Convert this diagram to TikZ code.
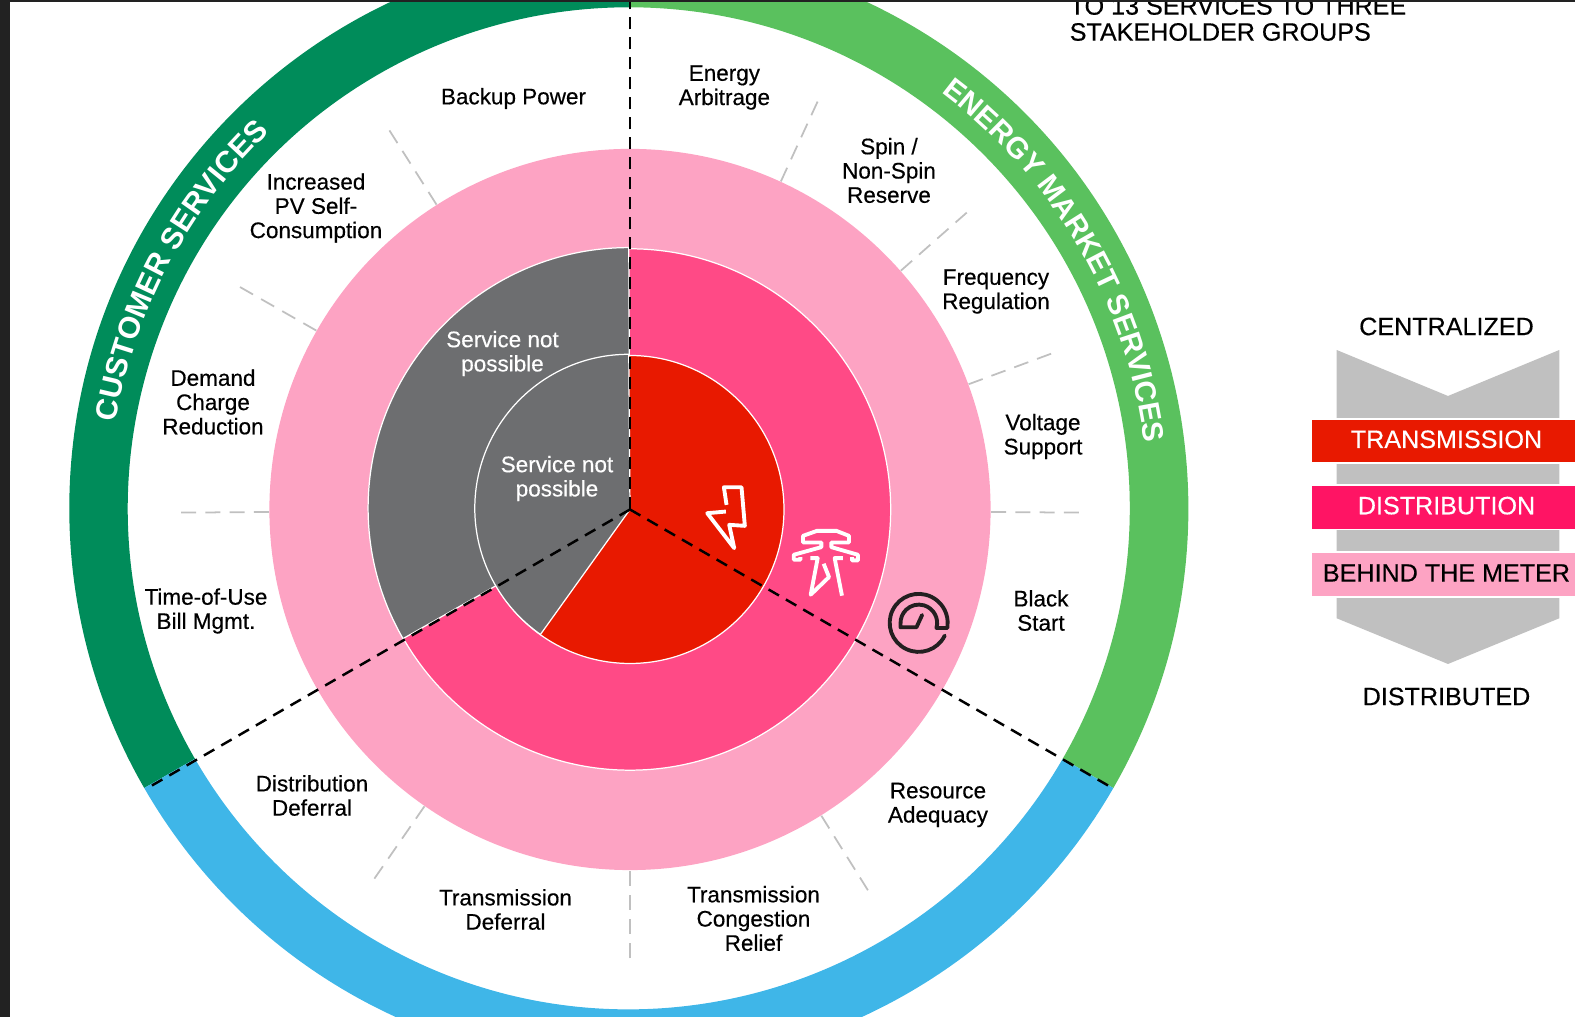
\documentclass[tikz,border=0pt]{standalone}
\usepackage{fontspec}
\setmainfont[FakeBold=.4]{Liberation Sans}
\newfontfamily\ringfont{Liberation Sans Bold}
\usetikzlibrary{decorations.text}
\definecolor{darkgreen}{HTML}{008C5A}
\definecolor{lightgreen}{HTML}{5AC15E}
\definecolor{ringblue}{HTML}{3FB6E8}
\definecolor{meterpink}{HTML}{FDA3C3}
\definecolor{gridpink}{HTML}{FF4A86}
\definecolor{gridred}{HTML}{E81900}
\definecolor{nogrey}{HTML}{6D6E70}
\definecolor{chevgrey}{HTML}{C0C0C0}
\definecolor{distpink}{HTML}{FF1464}
\definecolor{iconblack}{HTML}{231F20}
\definecolor{frame}{HTML}{222222}
\tikzset{
  svc/.style={align=center,inner sep=0pt,font=\fontsize{6.4}{6.9}\selectfont},
  nosvc/.style={svc,text=white},
  head/.style={inner sep=0pt,align=left,font=\fontsize{7.15}{7.4}\selectfont},
  band/.style={inner sep=0pt,minimum width=2.716cm,minimum height=.445cm,text height=.18cm,text depth=.04cm,font=\fontsize{7.15}{7.4}\selectfont},
  split/.style={draw=black,line width=.7pt,dash pattern=on .12cm off .08cm},
  tick/.style={draw=chevgrey,line width=.5pt,dash pattern=on .15cm off .093cm},
  ringtext/.style 2 args={decorate,decoration={text along path,text color=white,
    text={|\fontsize{#1}{#1}\selectfont\ringfont|#2}}},
  wline/.style={draw=white,line width=.35pt},
  icon/.style={line width=1.1pt,line join=round}
}
\begin{document}
\begin{tikzpicture}
\useasboundingbox (-6.3,-5.075) rectangle (9.45,5.095);
\clip (-6.3,-5.075) rectangle (9.45,5.095);
\coordinate (hub) at (0,0);
\coordinate (topend) at (90:5.1);
\coordinate (rightend) at (-30:5.58);
\coordinate (leftend) at (210:5.58);
\begin{scope}[shift={(-.012,.012)}]
\foreach \from/\to/\col in {90/210/darkgreen,-30/90/lightgreen,210/330/ringblue}
\fill[\col] (\from:5.595) arc (\from:\to:5.595) -- (\to:5.01) arc (\to:\from:5.01) -- cycle;
\path[ringtext={8.6}{CUSTOMER SERVICES}] (170.5:5.2) arc (170.5:120:5.2);
\path[ringtext={8.4}{ENERGY MARKET SERVICES}] (53.1:5.2) arc (53.1:-5:5.2);
\end{scope}
\foreach \ang in {65.3,41.4,20.3,-.4,-58,270,235.3,180.4,150.3,122.4}
\draw[tick] (\ang:4.49) -- (\ang:3.55);
\begin{scope}[shift={(-.012,.012)}]
\fill[meterpink] (hub) circle (3.606);
\draw[wline,fill=gridpink] (hub) circle (2.607);
\draw[wline,fill=nogrey] (hub) -- (90:2.607) arc (90:210:2.607) -- cycle;
\draw[wline,fill=gridred] (hub) circle (1.54);
\draw[wline,fill=nogrey] (hub) -- (90:1.54) arc (90:235:1.54) -- cycle;
\end{scope}
\draw[split] (hub) -- (topend);
\draw[split] (hub) -- (rightend);
\draw[split] (hub) -- (leftend);
\node[svc] (backup) at (-1.165,4.11) {Backup Power};
\node[svc] (arbitrage) at (.944,4.22) {Energy\\Arbitrage};
\node[svc] (spin) at (2.59,3.39) {Spin /\\Non-Spin\\Reserve};
\node[svc] (frequency) at (3.66,2.18) {Frequency\\Regulation};
\node[svc] (voltage) at (4.13,.73) {Voltage\\Support};
\node[svc] (blackstart) at (4.11,-1.01) {Black\\Start};
\node[svc] (adequacy) at (3.08,-2.955) {Resource\\Adequacy};
\node[svc] (congestion) at (1.235,-4.09) {Transmission\\Congestion\\Relief};
\node[svc] (txdeferral) at (-1.245,-4) {Transmission\\Deferral};
\node[svc] (dxdeferral) at (-3.18,-2.86) {Distribution\\Deferral};
\node[svc] (timeofuse) at (-4.24,-1.015) {Time-of-Use\\Bill Mgmt.};
\node[svc] (demand) at (-4.17,1.075) {Demand\\Charge\\Reduction};
\node[svc] (selfuse) at (-3.14,3.015) {Increased\\PV Self-\\Consumption};
\node[nosvc] (notdist) at (-1.275,1.56) {Service not\\possible};
\node[nosvc] (nottrans) at (-.73,.31) {Service not\\possible};
\begin{scope}[shift={(.5,.495)},x=.00333cm,y=-.00333cm]
\draw[icon,white] (140,135) -- (132,82) -- (185,82) -- (195,198) -- (148,195) -- (163,265) -- (82,160) -- (138,155);
\draw[icon,white] (362,292) -- (362,300) -- (342,300) -- (342,285) -- (425,262) -- (425,248) -- (370,248) -- (370,228) -- (412,213) -- (470,213) -- (508,228) -- (508,248) -- (455,248) -- (455,262) -- (535,285) -- (535,302) -- (517,302) -- (517,292);
\draw[icon,white] (392,295) -- (414,295) -- (393,405) -- (448,352) -- (432,312);
\draw[icon,white] (490,295) -- (465,295) -- (487,408);
\draw[icon,iconblack,line cap=round] (796,528) arc (-26:-357:.29cm) -- (804,505) -- (771,505) arc (-16:182:.183cm) -- (663,503) -- (711,503) -- (728,466);
\end{scope}
\fill[chevgrey] (7.067,1.595) -- (8.18,1.135) -- (9.293,1.595) -- (9.293,-1.088) -- (8.18,-1.545) -- (7.067,-1.088) -- cycle;
\node[band,fill=gridred,text=white,draw=white,line width=.5pt] (trans) at (8.165,.685) {TRANSMISSION};
\node[band,fill=distpink,text=white,draw=white,line width=.5pt] (dist) at (8.165,.022) {DISTRIBUTION};
\node[band,fill=meterpink,draw=white,line width=.5pt] (meter) at (8.165,-.651) {BEHIND THE METER};
\node[head] (central) at (8.165,1.83) {CENTRALIZED};
\node[head] (distrib) at (8.165,-1.87) {DISTRIBUTED};
\node[head,anchor=west] (groups) at (4.39,4.905) {TO 13 SERVICES TO THREE\\STAKEHOLDER GROUPS};
\fill[frame] (-6.3,-5.075) rectangle (-6.2,5.095);
\fill[frame] (-6.3,5.075) rectangle (9.45,5.095);
\end{tikzpicture}
\end{document}
